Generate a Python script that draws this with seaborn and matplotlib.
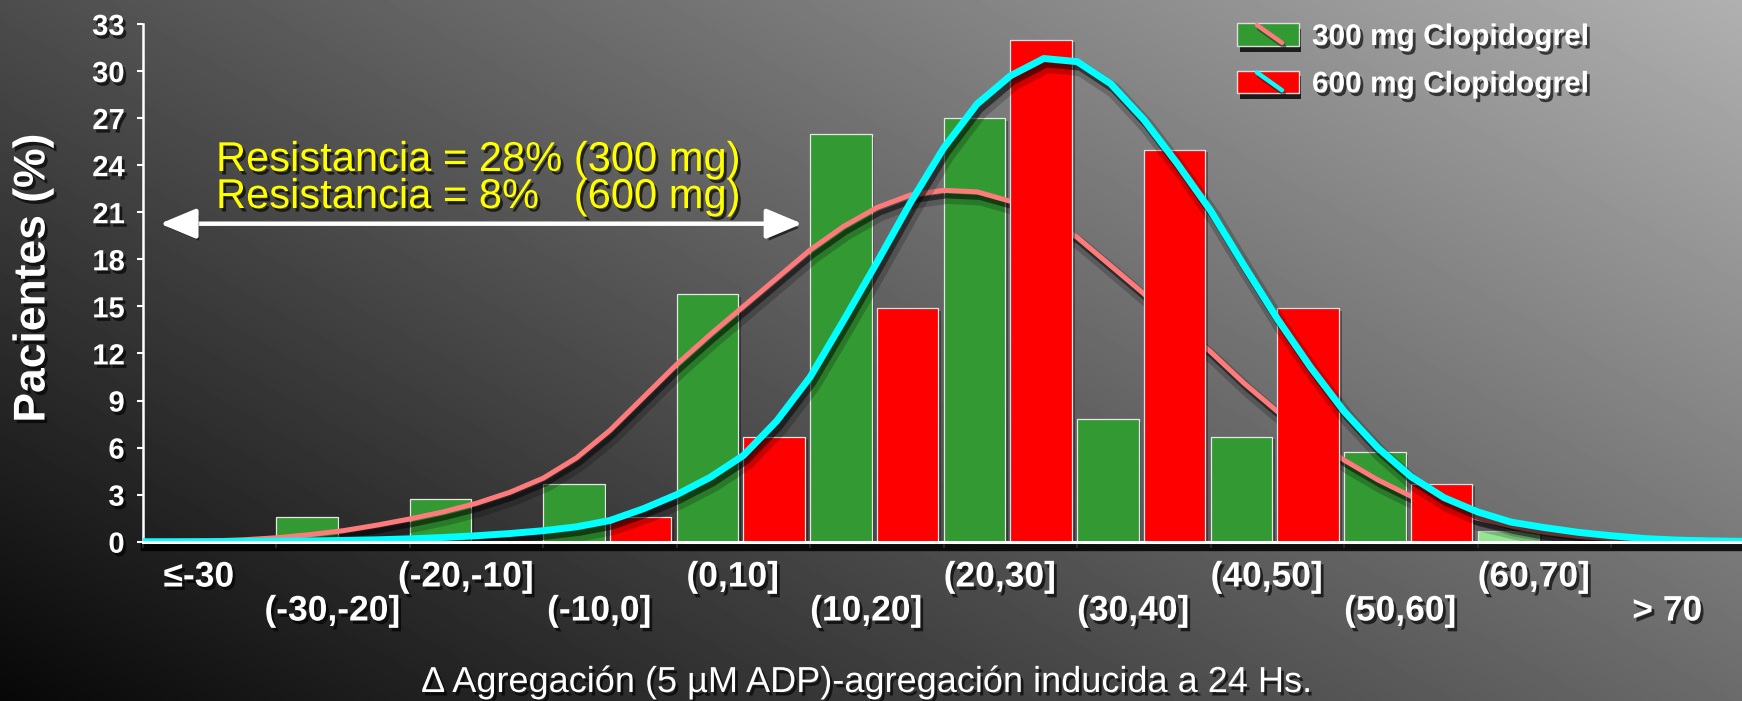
import numpy as np
import pandas as pd
import matplotlib
matplotlib.use("Agg")
import matplotlib.pyplot as plt
import matplotlib.patheffects as pe
from matplotlib.legend_handler import HandlerBase
from matplotlib.patches import Rectangle
from matplotlib.lines import Line2D
from matplotlib.transforms import blended_transform_factory
import seaborn as sns

# ---------------------------------------------------------------- data
rangos = ["≤-30", "(-30,-20]", "(-20,-10]", "(-10,0]", "(0,10]", "(10,20]",
          "(20,30]", "(30,40]", "(40,50]", "(50,60]", "(60,70]", "> 70"]
dosis = ["300 mg Clopidogrel", "600 mg Clopidogrel"]
pct_300 = [0, 1.6, 2.7, 3.7, 15.8, 26.0, 27.0, 7.8, 6.7, 5.7, 0.7, 0]
pct_600 = [0, 0, 0, 1.6, 6.7, 14.9, 32.0, 25.0, 14.9, 3.7, 0, 0]

# fitted distribution curves, sampled every quarter of a bin
ajuste_300 = [0.0, 0.02, 0.05, 0.12, 0.25, 0.45, 0.7, 1.05, 1.45, 1.9,
              2.45, 3.15, 4.05, 5.35, 7.1, 9.2, 11.3, 13.2, 15.0, 16.8,
              18.6, 20.1, 21.3, 22.1, 22.4, 22.3, 21.7, 20.7, 19.4, 17.6,
              15.8, 13.9, 12.1, 10.1, 8.3, 6.7, 5.2, 3.95, 2.9, 2.1,
              1.5, 1.0, 0.6, 0.35, 0.2, 0.1, 0.05, 0.02, 0.0]
ajuste_600 = [0.0, 0.0, 0.0, 0.02, 0.03, 0.05, 0.08, 0.12, 0.18, 0.27,
              0.38, 0.52, 0.7, 0.95, 1.35, 2.1, 3.0, 4.1, 5.5, 7.7,
              10.5, 14.1, 17.8, 21.6, 25.1, 27.9, 29.7, 30.8, 30.6, 29.2,
              26.9, 24.1, 21.1, 17.6, 14.2, 11.1, 8.3, 6.0, 4.15, 2.8,
              1.9, 1.25, 0.9, 0.6, 0.38, 0.2, 0.1, 0.05, 0.02]
y_ticks = list(range(0, 34, 3))

resistencia = ["Resistancia = 28% (300 mg)", "Resistancia = 8%   (600 mg)"]
titulo_x = "∆ Agregación (5 µM ADP)-agregación inducida a 24 Hs."
titulo_y = "Pacientes (%)"

# ---------------------------------------------------------------- style
sns.set_theme(style="ticks")
plt.rcParams["font.family"] = ["Liberation Sans", "DejaVu Sans"]

VERDE, ROJO = "#339933", "#ff0000"
ROSA, CIAN = "#ff7b7b", "#00ffff"
text_fx = [pe.withSimplePatchShadow(offset=(2, -2.5), shadow_rgbFace="black", alpha=0.65)]


def line_fx(lw):
    return [pe.SimpleLineShadow(offset=(2.5, -5), shadow_color="black", alpha=0.2, linewidth=lw + 6),
            pe.SimpleLineShadow(offset=(2.0, -4), shadow_color="black", alpha=0.5, linewidth=lw),
            pe.Normal()]


W, H = 1742, 701
fig = plt.figure(figsize=(W / 100, H / 100), dpi=100)

# diagonal grey backdrop, dark bottom-left to light top-right
bg = fig.add_axes([0, 0, 1, 1], zorder=-10)
gx, gy = np.meshgrid(np.linspace(0, 1, 400), np.linspace(0, 1, 160))
bg.imshow(0.03 + 0.39 * gx + 0.27 * gy, extent=[0, 1, 0, 1], origin="lower",
          aspect="auto", cmap="gray", vmin=0, vmax=1, interpolation="bilinear")
bg.axis("off")

ax = fig.add_axes([142.7 / W, 1 - 541.7 / H, 1 - 142.7 / W, 517.7 / H])
ax.set_facecolor("none")

df = pd.DataFrame({
    "rango": rangos * 2,
    "pct": pct_300 + pct_600,
    "dosis": [dosis[0]] * len(rangos) + [dosis[1]] * len(rangos),
})
sns.barplot(data=df, x="rango", y="pct", hue="dosis", order=rangos,
            hue_order=dosis, palette=[VERDE, ROJO], saturation=1,
            width=1.0, gap=0.08, edgecolor="#e6e6e6", linewidth=0.9,
            errorbar=None, legend=False, ax=ax)

bar_fx = [pe.withSimplePatchShadow(offset=(2, -2), shadow_rgbFace="black", alpha=0.35)]
for cont, z in zip(ax.containers, (2, 4)):
    for p in cont.patches:
        p.set_zorder(z)
        p.set_path_effects(bar_fx)
ax.containers[0].patches[10].set_facecolor("#92e692")

curve_x = np.linspace(-0.48, 11.52, len(ajuste_300))
sns.lineplot(x=curve_x, y=ajuste_300, ax=ax, color=ROSA, lw=3.6, zorder=3,
             sort=False, solid_capstyle="round", solid_joinstyle="round",
             path_effects=line_fx(3.6))
sns.lineplot(x=curve_x, y=ajuste_600, ax=ax, color=CIAN, lw=5.0, zorder=5,
             sort=False, solid_capstyle="round", solid_joinstyle="round",
             path_effects=line_fx(5.0))

# ---------------------------------------------------------------- axes
ax.set_xlim(-0.48, 11.5)
ax.set_ylim(0, 33)
ax.set_xlabel("")
ax.set_ylabel("")
ax.set_yticks(y_ticks)
ax.set_yticklabels([str(t) for t in y_ticks])
ax.set_xticks(np.arange(len(rangos)) - 0.48)
ax.set_xticklabels([])
ax.tick_params(axis="both", colors="white", length=4, width=1.5, direction="out")
ax.tick_params(axis="y", labelsize=21, pad=9.0)
for lab in ax.get_yticklabels():
    lab.set_fontweight("bold")
    lab.set_color("white")
    lab.set_path_effects(text_fx)
for side in ("top", "right"):
    ax.spines[side].set_visible(False)
ax.spines["left"].set_color("white")
ax.spines["left"].set_linewidth(1.8)
ax.spines["bottom"].set_color("white")
ax.spines["bottom"].set_linewidth(2.2)
ax.spines["bottom"].set_zorder(6)
ax.spines["bottom"].set_path_effects(
    [pe.SimpleLineShadow(offset=(1.5, -4), shadow_color="black", alpha=0.85, linewidth=6), pe.Normal()])

# staggered bin labels
trans = blended_transform_factory(ax.transData, fig.transFigure)
for i, lab in enumerate(rangos):
    ypos = 1 - 577 / H if i % 2 == 0 else 1 - 611 / H
    ax.text(i - 0.06, ypos, lab, transform=trans, ha="center", va="center",
            fontsize=25.5, fontweight="bold", color="white",
            path_effects=text_fx, clip_on=False)

fig.text(867 / W, 1 - 692 / H, titulo_x, ha="center", va="baseline",
         fontsize=26, color="white", path_effects=text_fx)
fig.text(33 / W, 1 - 278 / H, titulo_y, rotation=90, ha="center", va="center",
         fontsize=32, fontweight="bold", color="white", path_effects=text_fx)

# resistance annotation with double arrow
ax.annotate("", xy=(-0.35, 20.27), xytext=(4.46, 20.27),
            arrowprops=dict(arrowstyle="<|-|>,head_length=1.1,head_width=0.46",
                            mutation_scale=20, lw=3.2, color="white",
                            shrinkA=0, shrinkB=0,
                            path_effects=[pe.withSimplePatchShadow(offset=(2, -3), shadow_rgbFace="black", alpha=0.6)]),
            zorder=6)
for txt, base in zip(resistencia, (171, 208)):
    fig.text(216 / W, 1 - base / H, txt, ha="left", va="baseline",
             fontsize=30, color="#ffff00", path_effects=text_fx)


# ---------------------------------------------------------------- legend
class Swatch:
    def __init__(self, face, stroke):
        self.face = face
        self.stroke = stroke


class SwatchHandler(HandlerBase):
    def create_artists(self, legend, orig_handle, xdescent, ydescent,
                       width, height, fontsize, trans):
        x0, y0 = -xdescent, -ydescent
        rect = Rectangle((x0, y0), width, height, facecolor=orig_handle.face,
                         edgecolor="#dddddd", lw=1, transform=trans)
        rect.set_path_effects([pe.withSimplePatchShadow(offset=(2, -4), shadow_rgbFace="black", alpha=0.8)])
        seg = Line2D([x0 + 0.32 * width, x0 + 0.73 * width],
                     [y0 + 0.92 * height, y0 + 0.14 * height],
                     color=orig_handle.stroke, lw=3.2, transform=trans,
                     path_effects=[pe.SimpleLineShadow(offset=(1.5, -2.5), alpha=0.5), pe.Normal()])
        return [rect, seg]


handles = [Swatch(VERDE, ROSA), Swatch(ROJO, CIAN)]
leg = fig.legend(handles, dosis, handler_map={Swatch: SwatchHandler()},
                 loc="upper left", bbox_to_anchor=(1237.3 / W, 1 - 23 / H),
                 frameon=False, borderpad=0, borderaxespad=0,
                 handlelength=2.05, handleheight=0.8, handletextpad=0.45,
                 labelspacing=0.65, prop={"size": 21.5, "weight": "bold"})
for t in leg.get_texts():
    t.set_color("white")
    t.set_path_effects(text_fx)

fig.savefig("out.png", dpi=100)
